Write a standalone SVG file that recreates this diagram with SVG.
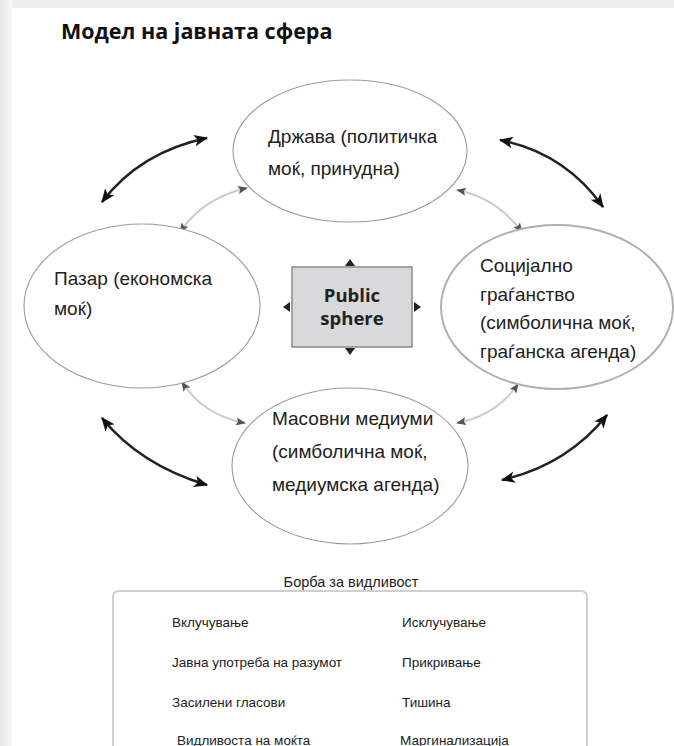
<svg xmlns="http://www.w3.org/2000/svg" width="674" height="746" viewBox="0 0 674 746">
<defs>
<style>
.bg{fill:#ffffff}
.title{font-family:"Open Sans","Liberation Sans",sans-serif;font-weight:bold;font-size:21.5px;fill:#111}
.lbl{font-family:"Liberation Sans","DejaVu Sans",sans-serif;font-size:19px;fill:#222}
.leg{font-family:"Liberation Sans","DejaVu Sans",sans-serif;font-size:13.5px;fill:#222}
.ell{fill:#fff;stroke:#9a9a9a;stroke-width:1.1}
.ps{font-family:"Open Sans","Liberation Sans",sans-serif;font-weight:bold;font-size:18.5px;fill:#222}
.blk{fill:none;stroke:#222;stroke-width:2.6}
.gry{fill:none;stroke:#cbcbcb;stroke-width:2}
</style>
<marker id="ab" viewBox="0 0 12 10" refX="11" refY="5" markerWidth="14" markerHeight="12" markerUnits="userSpaceOnUse" orient="auto-start-reverse">
<path d="M0,0 L12,5 L0,10 L3,5 z" fill="#111"/>
</marker>
<marker id="ag" viewBox="0 0 10 8" refX="9" refY="4" markerWidth="10" markerHeight="8" markerUnits="userSpaceOnUse" orient="auto-start-reverse">
<path d="M0,0 L10,4 L0,8 L2,4 z" fill="#555"/>
</marker>
<linearGradient id="ls" x1="0" x2="1" y1="0" y2="0">
<stop offset="0" stop-color="#e6e6e6"/>
<stop offset="1" stop-color="#f8f8f8"/>
</linearGradient>
</defs>
<rect class="bg" x="0" y="0" width="674" height="746"/>
<rect x="0" y="0" width="674" height="8" fill="#eeeeee"/>
<rect x="0" y="0" width="12" height="746" fill="url(#ls)"/>
<text class="title" x="61" y="39">Модел на јавната сфера</text>

<g id="connectors">
<path class="gry" d="M180,232 Q203,198 247,188" marker-start="url(#ag)" marker-end="url(#ag)"/>
<path class="gry" d="M457,190 Q497,198 522,232" marker-start="url(#ag)" marker-end="url(#ag)"/>
<path class="gry" d="M182,382 Q203,415 245,423" marker-start="url(#ag)" marker-end="url(#ag)"/>
<path class="gry" d="M457,423 Q497,415 518,384" marker-start="url(#ag)" marker-end="url(#ag)"/>
<path class="blk" d="M102,202 Q140,152 207,138" marker-start="url(#ab)" marker-end="url(#ab)"/>
<path class="blk" d="M500,140 Q565,153 603,207" marker-start="url(#ab)" marker-end="url(#ab)"/>
<path class="blk" d="M102,418 Q140,465 207,485" marker-start="url(#ab)" marker-end="url(#ab)"/>
<path class="blk" d="M502,480 Q567,465 607,415" marker-start="url(#ab)" marker-end="url(#ab)"/>
</g>

<g id="drzava">
<ellipse class="ell" cx="350" cy="151" rx="117" ry="71"/>
<text class="lbl" x="268" y="143">Држава (политичка</text>
<text class="lbl" x="268" y="175">моќ, принудна)</text>
</g>

<g id="pazar">
<ellipse class="ell" cx="142" cy="306" rx="118" ry="82"/>
<text class="lbl" x="54" y="285">Пазар (економска</text>
<text class="lbl" x="54" y="315">моќ)</text>
</g>

<g id="socijalno">
<ellipse cx="557" cy="307" rx="116" ry="82" fill="#fff" stroke="#b0b0b0" stroke-width="2"/>
<text class="lbl" x="480" y="272">Социјално</text>
<text class="lbl" x="480" y="301">граѓанство</text>
<text class="lbl" x="480" y="329">(симболична моќ,</text>
<text class="lbl" x="480" y="358">граѓанска агенда)</text>
</g>

<g id="mediumi">
<ellipse class="ell" cx="350" cy="466" rx="118" ry="78"/>
<text class="lbl" x="272" y="425">Масовни медиуми</text>
<text class="lbl" x="272" y="458">(симболична моќ,</text>
<text class="lbl" x="272" y="491">медиумска агенда)</text>
</g>

<g id="public-sphere">
<rect x="292" y="267" width="120" height="80" fill="#d9d9db" stroke="#8a8a8a" stroke-width="1.5"/>
<text class="ps" x="352" y="302" text-anchor="middle">Public</text>
<text class="ps" x="352" y="325" text-anchor="middle">sphere</text>
<polygon points="345,266 355,266 350,259" fill="#222"/>
<polygon points="345,348 355,348 350,355" fill="#222"/>
<polygon points="290,302 290,312 283,307" fill="#222"/>
<polygon points="414,302 414,312 421,307" fill="#222"/>
</g>

<g id="legend">
<text class="leg" x="351" y="587" text-anchor="middle" style="font-size:14.5px">Борба за видливост</text>
<path d="M113,760 L113,597 Q113,591 119,591 L581,591 Q587,591 587,597 L587,760" fill="none" stroke="#cfcfcf" stroke-width="2"/>
<text class="leg" x="172" y="627">Вклучување</text>
<text class="leg" x="402" y="627">Исклучување</text>
<text class="leg" x="172" y="667">Јавна употреба на разумот</text>
<text class="leg" x="402" y="667">Прикривање</text>
<text class="leg" x="172" y="707">Засилени гласови</text>
<text class="leg" x="402" y="707">Тишина</text>
<text class="leg" x="177" y="745">Видливоста на моќта</text>
<text class="leg" x="400" y="745">Маргинализација</text>
</g>
</svg>
